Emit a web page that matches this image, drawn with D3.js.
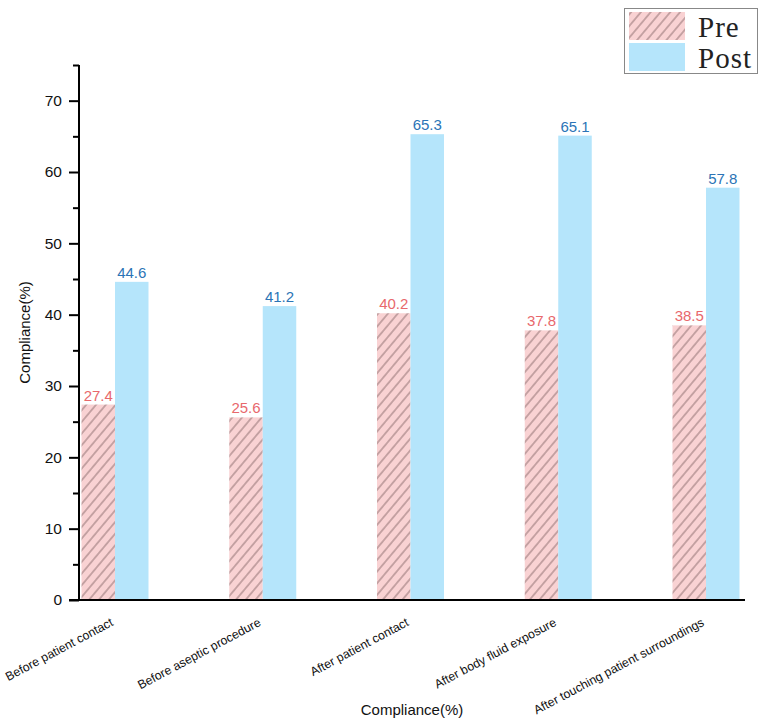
<!DOCTYPE html>
<html>
<head>
<meta charset="utf-8">
<script src="https://cdn.jsdelivr.net/npm/d3@7"></script>
<style>
  body { margin: 0; background: #fff; }
  svg { display: block; }
</style>
</head>
<body>
<svg id="chart" width="767" height="724"></svg>
<script>
// chart data
var categories = ["Before patient contact", "Before aseptic procedure", "After patient contact",
  "After body fluid exposure", "After touching patient surroundings"];
var preValues = [27.4, 25.6, 40.2, 37.8, 38.5];
var postValues = [44.6, 41.2, 65.3, 65.1, 57.8];
var seriesNames = ["Pre", "Post"];
var yTicks = [0, 10, 20, 30, 40, 50, 60, 70];
var yMinorTicks = [5, 15, 25, 35, 45, 55, 65, 75];

var preFill = "#f9d2d3", postFill = "#b5e5fb";
var preText = "#e8686c", postText = "#2b74b6";

var svg = d3.select("#chart");

var y = d3.scaleLinear().domain([0, 75]).range([600, 65]);
var x = d3.scalePoint().domain(categories).range([115, 706]);
var barW = 33.5;

// hatch for the Pre bars
var defs = svg.append("defs");
var pat = defs.append("pattern")
    .attr("id", "hatch")
    .attr("patternUnits", "userSpaceOnUse")
    .attr("width", 7.5)
    .attr("height", 10)
    .attr("patternTransform", "rotate(40)");
pat.append("rect").attr("x", -1).attr("y", -1).attr("width", 10).attr("height", 12).attr("fill", preFill);
pat.append("line")
    .attr("x1", 3.75).attr("x2", 3.75)
    .attr("y1", -1).attr("y2", 11)
    .attr("stroke", "#7d5f61")
    .attr("stroke-width", 0.85);

// bars
var groups = svg.append("g").selectAll("g")
    .data(categories)
    .enter().append("g");

groups.append("rect")
    .attr("x", function (d) { return x(d) - barW; })
    .attr("width", barW)
    .attr("y", function (d, i) { return y(preValues[i]); })
    .attr("height", function (d, i) { return y(0) - y(preValues[i]); })
    .attr("fill", "url(#hatch)");

groups.append("rect")
    .attr("x", function (d) { return x(d); })
    .attr("width", barW)
    .attr("y", function (d, i) { return y(postValues[i]); })
    .attr("height", function (d, i) { return y(0) - y(postValues[i]); })
    .attr("fill", postFill);

// value labels
groups.append("text")
    .attr("x", function (d) { return x(d) - barW / 2; })
    .attr("y", function (d, i) { return y(preValues[i]) - 4; })
    .attr("text-anchor", "middle")
    .style("font", "15px Arial, 'Liberation Sans', sans-serif")
    .attr("fill", preText)
    .text(function (d, i) { return preValues[i].toFixed(1); });

groups.append("text")
    .attr("x", function (d) { return x(d) + barW / 2; })
    .attr("y", function (d, i) { return y(postValues[i]) - 4; })
    .attr("text-anchor", "middle")
    .style("font", "15px Arial, 'Liberation Sans', sans-serif")
    .attr("fill", postText)
    .text(function (d, i) { return postValues[i].toFixed(1); });

// y axis
var yAxis = d3.axisLeft(y).tickValues(yTicks).tickSize(10).tickPadding(7).tickFormat(d3.format("d"));
var gy = svg.append("g").attr("transform", "translate(79,0)").call(yAxis);
gy.select(".domain").remove();
gy.selectAll(".tick line").attr("stroke", "#000").attr("stroke-width", 2);
gy.selectAll(".tick text")
    .style("font", "15.5px Arial, 'Liberation Sans', sans-serif")
    .attr("fill", "#111");

var gyMinor = svg.append("g").attr("transform", "translate(79,0)")
    .call(d3.axisLeft(y).tickValues(yMinorTicks).tickSize(6).tickFormat(""));
gyMinor.select(".domain").remove();
gyMinor.selectAll(".tick line").attr("stroke", "#000").attr("stroke-width", 2);

svg.append("line")
    .attr("x1", 79).attr("x2", 79)
    .attr("y1", y(75)).attr("y2", y(0))
    .attr("stroke", "#000").attr("stroke-width", 2);

// x axis line
svg.append("line")
    .attr("x1", 69).attr("x2", 745)
    .attr("y1", y(0)).attr("y2", y(0))
    .attr("stroke", "#000").attr("stroke-width", 2);

// category labels
svg.append("g").selectAll("text")
    .data(categories)
    .enter().append("text")
    .attr("transform", function (d) { return "translate(" + (x(d) - 1) + "," + 625 + ") rotate(-28)"; })
    .attr("text-anchor", "end")
    .style("font", "12.3px Arial, 'Liberation Sans', sans-serif")
    .attr("fill", "#111")
    .text(function (d) { return d; });

// axis titles
svg.append("text")
    .attr("transform", "translate(30," + ((y(0) + y(75)) / 2) + ") rotate(-90)")
    .attr("text-anchor", "middle")
    .style("font", "15px Arial, 'Liberation Sans', sans-serif")
    .attr("fill", "#111")
    .text("Compliance(%)");

svg.append("text")
    .attr("x", 412)
    .attr("y", 715)
    .attr("text-anchor", "middle")
    .style("font", "15px Arial, 'Liberation Sans', sans-serif")
    .attr("fill", "#111")
    .text("Compliance(%)");

// legend
var legend = svg.append("g");
legend.append("rect")
    .attr("x", 624.5).attr("y", 8.5)
    .attr("width", 133).attr("height", 65)
    .attr("fill", "#fff")
    .attr("stroke", "#888")
    .attr("stroke-width", 1);

var legendFills = ["url(#hatch)", postFill];
seriesNames.forEach(function (name, i) {
    legend.append("rect")
        .attr("x", 629).attr("y", 12 + i * 31)
        .attr("width", 56).attr("height", 28)
        .attr("fill", legendFills[i]);
    legend.append("text")
        .attr("x", 698).attr("y", 37 + i * 31)
        .style("font", "29px 'Liberation Serif', serif")
        .style("letter-spacing", "1px")
        .attr("fill", "#222")
        .text(name);
});
</script>
</body>
</html>
